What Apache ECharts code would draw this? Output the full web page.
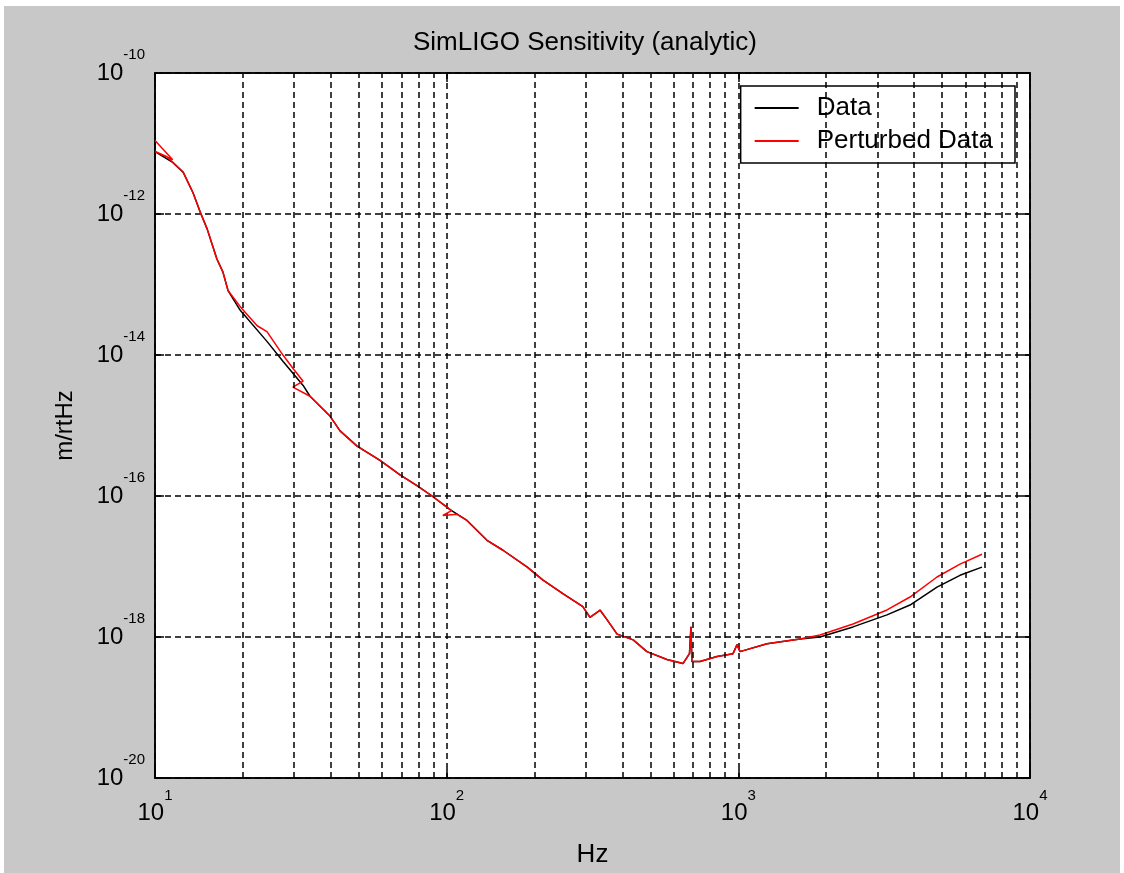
<!DOCTYPE html>
<html>
<head>
<meta charset="utf-8">
<script src="https://cdn.jsdelivr.net/npm/echarts@6/dist/echarts.min.js"></script>
<style>
  html, body { margin: 0; padding: 0; background: #fff; }
  #chart { position: absolute; left: 4px; top: 6px; width: 1116px; height: 867px; background: #c8c8c8; }
</style>
</head>
<body>
<div id="chart"></div>
<script>
// (Hz, m/rtHz)
const dataFreq = [10, 11.5, 12.5, 13.5, 14.3, 15.1, 16.3, 17.1, 17.8, 19.6, 24.2, 27.5, 32.2, 34.0,
  39.8, 43.1, 49.3, 59.1, 69.2, 79.1, 89.1, 102.7, 117.4, 137.5, 156, 189, 214, 251, 293, 310,
  336, 355, 384, 436, 486, 569, 646, 680, 688, 693, 739, 845, 959, 990, 1013, 1254, 1627,
  1905, 2473, 3233, 3878, 4799, 5754, 6845];
const dataAmp = [7.7e-12, 5.4e-12, 3.9e-12, 2.0e-12, 1.06e-12, 6.1e-13, 2.3e-13, 1.5e-13, 8.2e-14,
  4.3e-14, 1.56e-14, 8.1e-15, 3.7e-15, 2.6e-15, 1.36e-15, 8.4e-16, 5.1e-16, 3.2e-16, 2.0e-16,
  1.4e-16, 1.0e-16, 6.4e-17, 4.5e-17, 2.35e-17, 1.7e-17, 9.8e-18, 6.4e-18, 4.1e-18, 2.7e-18,
  1.9e-18, 2.4e-18, 1.75e-18, 1.1e-18, 9.1e-19, 6.2e-19, 4.8e-19, 4.2e-19, 5.8e-19, 1.4e-18,
  4.5e-19, 4.5e-19, 5.3e-19, 5.8e-19, 7.8e-19, 6.2e-19, 8.0e-19, 9.4e-19,
  1.0e-18, 1.39e-18, 2.06e-18, 2.84e-18, 5.1e-18, 7.5e-18, 9.8e-18];

const pertFreq = [10, 11.5, 10, 11.0, 12.5, 13.5, 14.3, 15.1, 16.3, 17.1, 17.8, 19.6, 22.4, 24.2,
  27.5, 29.7, 32.2, 29.7, 34.0, 39.8, 43.1, 49.3, 59.1, 69.2, 79.1, 89.1, 100, 104, 97, 108.5,
  117.4, 137.5, 156, 189, 214, 251, 293, 310, 336, 355, 384, 436, 486, 569, 646, 680, 688, 693,
  739, 845, 959, 990, 1013, 1254, 1627, 1905, 2473, 3233, 3878, 4799, 5754, 6845];
const pertAmp = [1.1e-11, 5.9e-12, 7.7e-12, 6.5e-12, 3.9e-12, 2.0e-12, 1.06e-12, 6.1e-13, 2.3e-13,
  1.5e-13, 8.2e-14, 4.85e-14, 2.6e-14, 2.15e-14, 9.9e-15, 6.5e-15, 4.25e-15, 3.5e-15, 2.6e-15,
  1.36e-15, 8.4e-16, 5.1e-16, 3.2e-16, 2.0e-16, 1.4e-16, 1.0e-16, 7.0e-17, 6.2e-17, 5.3e-17,
  5.5e-17, 4.5e-17, 2.35e-17, 1.7e-17, 9.8e-18, 6.4e-18, 4.1e-18, 2.7e-18, 1.9e-18, 2.4e-18,
  1.75e-18, 1.1e-18, 9.1e-19, 6.2e-19, 4.8e-19, 4.2e-19, 5.8e-19, 1.4e-18, 4.5e-19, 4.5e-19,
  5.3e-19, 5.8e-19, 7.8e-19, 6.2e-19, 8.0e-19, 9.4e-19, 1.07e-18, 1.53e-18, 2.42e-18, 3.69e-18,
  7.1e-18, 1.08e-17, 1.49e-17];

// minor grid positions (2..9 per decade)
const minorGridX = [20, 30, 40, 50, 60, 70, 80, 90, 200, 300, 400, 500, 600, 700, 800, 900,
  2000, 3000, 4000, 5000, 6000, 7000, 8000, 9000];
const yTickExp = [-20, -10];   // exponent range, labels every 2 decades

const textFont = "'Liberation Sans', Arial, sans-serif";
const dash = [6, 4];

const powRich = {
  b: { fontSize: 24, fontFamily: textFont, color: '#000' },
  s: { fontSize: 15, fontFamily: textFont, color: '#000', padding: [0, 0, 36, 0] }
};
const powLabel = (exp) => '{b|10}{s|' + exp + '}';

const chart = echarts.init(document.getElementById('chart'));
const option = {
  animation: false,
  backgroundColor: '#c8c8c8',
  title: {
    text: 'SimLIGO Sensitivity (analytic)',
    left: 409, top: 24, padding: 0,
    textStyle: { fontSize: 26, fontWeight: 'normal', fontFamily: textFont, color: '#000' }
  },
  legend: {
    data: ['Data', 'Perturbed Data'],
    orient: 'vertical',
    right: 105, top: 80,
    backgroundColor: '#fff',
    borderColor: '#000', borderWidth: 1.5,
    padding: [7, 22, 7, 14],
    itemGap: 3,
    icon: 'rect', itemWidth: 44, itemHeight: 2,
    textStyle: { fontSize: 26, fontFamily: textFont, color: '#000', lineHeight: 30, padding: [0, 0, 0, 13] }
  },
  grid: {
    left: 151, right: 90, top: 67, bottom: 91,
    show: true, backgroundColor: '#fff', borderColor: '#000', borderWidth: 1.5
  },
  xAxis: [{
    type: 'log', logBase: 10, min: 10, max: 10000,
    axisLine: { lineStyle: { color: '#000', width: 1.5 } },
    axisTick: { inside: true, length: 9, lineStyle: { color: '#000', width: 1.5 } },
    splitLine: { show: true, lineStyle: { color: '#000', type: dash, width: 1.5 } },
    axisLabel: {
      margin: 10,
      formatter: (v) => powLabel(Math.round(Math.log10(v))),
      rich: powRich
    },
    name: 'Hz', nameLocation: 'middle', nameGap: 64,
    nameTextStyle: { fontSize: 26, fontFamily: textFont, color: '#000' }
  }, {
    type: 'log', logBase: 10, min: 10, max: 10000, position: 'top',
    axisLine: { lineStyle: { color: '#000', width: 1.5 } },
    axisTick: { inside: true, length: 9, lineStyle: { color: '#000', width: 1.5 } },
    axisLabel: { show: false }, splitLine: { show: false }
  }],
  yAxis: [{
    // data axis
    type: 'log', logBase: 10, min: Math.pow(10, yTickExp[0]), max: Math.pow(10, yTickExp[1]),
    position: 'left', show: false
  }, {
    type: 'value', min: yTickExp[0], max: yTickExp[1], interval: 2, position: 'left',
    axisLine: { show: true, lineStyle: { color: '#000', width: 1.5 } },
    axisTick: { show: true, inside: true, length: 9, lineStyle: { color: '#000', width: 1.5 } },
    splitLine: { show: true, lineStyle: { color: '#000', type: dash, width: 1.5 } },
    axisLabel: { margin: 10, formatter: (v) => powLabel(v), rich: powRich },
    name: 'm/rtHz', nameLocation: 'middle', nameGap: 78, nameRotate: 90,
    nameTextStyle: { fontSize: 24, fontFamily: textFont, color: '#000' }
  }, {
    type: 'value', min: yTickExp[0], max: yTickExp[1], interval: 2, position: 'right',
    axisLine: { show: true, lineStyle: { color: '#000', width: 1.5 } },
    axisTick: { show: true, inside: true, length: 9, lineStyle: { color: '#000', width: 1.5 } },
    axisLabel: { show: false }, splitLine: { show: false }
  }],
  series: [{
    type: 'line', name: 'grid', data: [], z: 1, silent: true,
    markLine: {
      silent: true, symbol: ['none', 'none'], label: { show: false },
      lineStyle: { color: '#000', type: dash, width: 1.5 },
      data: minorGridX.map((x) => ({ xAxis: x }))
    }
  }, {
    type: 'line', name: 'Data', z: 3,
    showSymbol: false, symbol: 'none',
    lineStyle: { color: '#000', width: 1.5 }, itemStyle: { color: '#000' },
    data: dataFreq.map((f, i) => [f, dataAmp[i]])
  }, {
    type: 'line', name: 'Perturbed Data', z: 4,
    showSymbol: false, symbol: 'none',
    lineStyle: { color: '#ff0000', width: 1.5 }, itemStyle: { color: '#ff0000' },
    data: pertFreq.map((f, i) => [f, pertAmp[i]])
  }]
};
chart.setOption(option);
</script>
</body>
</html>
